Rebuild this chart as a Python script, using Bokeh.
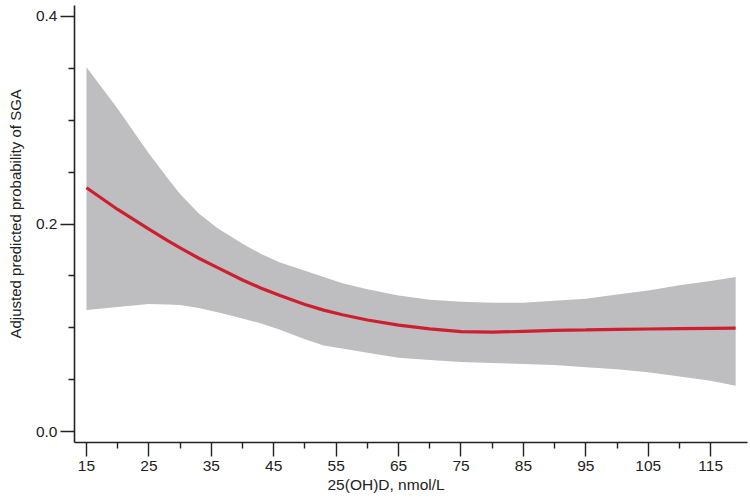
from bokeh.plotting import figure
from bokeh.models import Range1d, FixedTicker, Title
from bokeh.embed import file_html
from bokeh.resources import INLINE

# 25(OH)D, nmol/L
vitd = [15, 20, 25, 28, 30, 33, 36, 40, 43, 46, 50, 53, 56, 60, 65, 70, 75,
        80, 85, 90, 95, 100, 105, 110, 115, 119]
# adjusted predicted probability of SGA (fitted curve)
fit = [0.235, 0.214, 0.195, 0.184, 0.177, 0.167, 0.158, 0.146, 0.138, 0.131,
       0.1225, 0.117, 0.1125, 0.1075, 0.1025, 0.099, 0.0962, 0.0957, 0.0966,
       0.0975, 0.0979, 0.0984, 0.0988, 0.0991, 0.0994, 0.0996]
# 95% confidence band
upper = [0.351, 0.311, 0.268, 0.244, 0.229, 0.210, 0.196, 0.181, 0.171, 0.163,
         0.155, 0.149, 0.143, 0.137, 0.131, 0.127, 0.125, 0.124, 0.124, 0.126,
         0.128, 0.132, 0.136, 0.141, 0.145, 0.149]
lower = [0.117, 0.120, 0.123, 0.1225, 0.122, 0.119, 0.115, 0.109, 0.104, 0.098,
         0.089, 0.083, 0.080, 0.076, 0.071, 0.069, 0.067, 0.066, 0.065, 0.064,
         0.062, 0.060, 0.057, 0.053, 0.049, 0.044]

x_major = [15, 25, 35, 45, 55, 65, 75, 85, 95, 105, 115]
x_minor = [20, 30, 40, 50, 60, 70, 80, 90, 100, 110]
y_major = [0.0, 0.2, 0.4]
y_minor = [0.05, 0.1, 0.15, 0.25, 0.3, 0.35]

FONT = "Liberation Sans"
FS = "15.5px"
AX = "#222222"

p = figure(width=750, height=502, output_backend="svg", toolbar_location=None,
           x_range=Range1d(13.08, 120.9), y_range=Range1d(-0.0106, 0.4106),
           min_border_left=72, min_border_right=3, min_border_top=5,
           min_border_bottom=60)
p.outline_line_color = None
p.xgrid.visible = False
p.ygrid.visible = False
p.background_fill_color = "white"

p.varea(x=vitd, y1=lower, y2=upper, fill_color="#BEBDBF", fill_alpha=1.0)
p.line(x=vitd, y=fit, line_color="#CD1F30", line_width=3.2)

p.xaxis.ticker = FixedTicker(ticks=x_major, minor_ticks=x_minor)
p.yaxis.ticker = FixedTicker(ticks=y_major, minor_ticks=y_minor)
p.yaxis.major_label_overrides = {0.0: "0.0", 0.2: "0.2", 0.4: "0.4"}

for ax in (p.xaxis, p.yaxis):
    ax.axis_line_color = AX
    ax.axis_line_width = 1.6
    ax.major_tick_line_color = AX
    ax.minor_tick_line_color = AX
    ax.major_tick_line_width = 1.4
    ax.minor_tick_line_width = 1.4
    ax.major_tick_in = 0
    ax.major_tick_out = 14
    ax.minor_tick_in = 0
    ax.minor_tick_out = 6
    ax.major_label_text_font = FONT
    ax.major_label_text_font_size = FS
    ax.major_label_text_color = AX
p.xaxis.major_label_standoff = 4
p.yaxis.major_label_standoff = 3

p.add_layout(Title(text="25(OH)D, nmol/L", align="left", offset=253,
                   standoff=0, text_font=FONT, text_font_size=FS,
                   text_font_style="normal", text_color=AX), "below")
p.add_layout(Title(text="Adjusted predicted probability of SGA", align="left",
                   offset=104, standoff=13, vertical_align="top",
                   text_font=FONT, text_font_size="15px",
                   text_font_style="normal", text_color=AX), "left")

open("out.html", "w").write(file_html(p, INLINE))
